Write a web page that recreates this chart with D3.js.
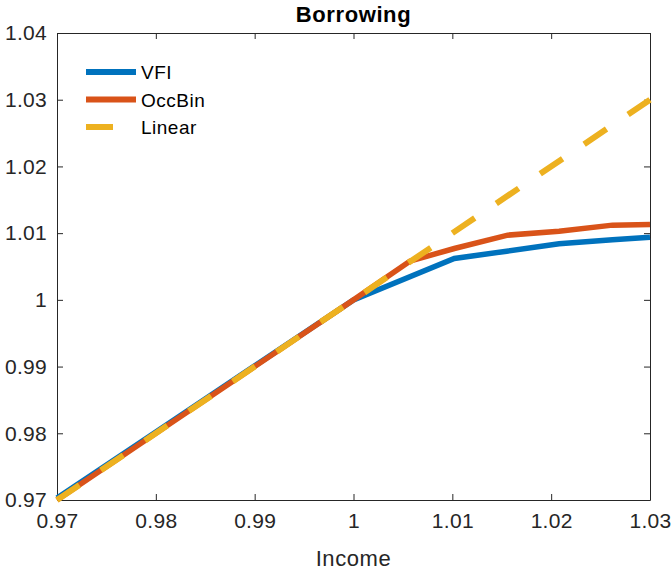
<!DOCTYPE html>
<html>
<head>
<meta charset="utf-8">
<script src="https://cdn.jsdelivr.net/npm/d3@7"></script>
<style>
  html, body { margin: 0; padding: 0; background: #fff; }
  svg { display: block; font-family: "Liberation Sans", Arial, Helvetica, sans-serif; }
</style>
</head>
<body>
<svg id="chart" width="671" height="572"></svg>
<script>
// Income grid and borrowing policy for each solution method
const vfiIncome    = [0.97, 0.98, 0.99, 1.00, 1.0102, 1.0155, 1.0208, 1.0262, 1.03];
const vfiBorrow    = [0.9703, 0.9802, 0.9901, 1.0000, 1.0062, 1.0073, 1.0084, 1.0090, 1.0094];
const occIncome    = [0.97, 0.98, 0.99, 1.00, 1.0057, 1.0102, 1.0156, 1.0208, 1.0262, 1.03];
const occBorrow    = [0.9700, 0.9800, 0.9900, 1.0000, 1.0058, 1.0077, 1.0097, 1.0103, 1.0112, 1.0113];
const linIncome    = [0.97, 1.03];
const linBorrow    = [0.97, 1.03];

const xTicks = [0.97, 0.98, 0.99, 1.00, 1.01, 1.02, 1.03];
const yTicks = [0.97, 0.98, 0.99, 1.00, 1.01, 1.02, 1.03, 1.04];
const tickFmt = v => (Math.abs(v - 1) < 1e-9 ? "1" : d3.format(".2f")(v));

const seriesNames  = ["VFI", "OccBin", "Linear"];
const seriesColors = ["#0072BD", "#D95319", "#EDB120"];

const svg = d3.select("#chart");
const L = 57, R = 650, T = 33, B = 500;

const x = d3.scaleLinear().domain([0.97, 1.03]).range([L, R]);
const y = d3.scaleLinear().domain([0.97, 1.04]).range([B, T]);

const axisColor = "#262626";
const tickLen = 6;

// Box and inward ticks on all four sides
const axes = svg.append("g");
const gBottom = axes.append("g").attr("transform", `translate(0,${B})`)
  .call(d3.axisBottom(x).tickValues(xTicks).tickSizeInner(-tickLen).tickSizeOuter(0).tickFormat(tickFmt));
axes.append("g").attr("transform", `translate(0,${T})`)
  .call(d3.axisTop(x).tickValues(xTicks).tickSizeInner(-tickLen).tickSizeOuter(0).tickFormat(""));
const gLeft = axes.append("g").attr("transform", `translate(${L},0)`)
  .call(d3.axisLeft(y).tickValues(yTicks).tickSizeInner(-tickLen).tickSizeOuter(0).tickFormat(tickFmt));
axes.append("g").attr("transform", `translate(${R},0)`)
  .call(d3.axisRight(y).tickValues(yTicks).tickSizeInner(-tickLen).tickSizeOuter(0).tickFormat(""));

axes.selectAll(".domain").attr("stroke", axisColor).attr("stroke-width", 1);
axes.selectAll(".tick line").attr("stroke", axisColor).attr("stroke-width", 1);
axes.selectAll(".tick text")
  .attr("fill", "#262626")
  .style("font-size", "21px")
  .style("letter-spacing", "0.3px");
gBottom.selectAll(".tick text").attr("y", 13);
gLeft.selectAll(".tick text").attr("x", -10);

// Lines
const line = d3.line().x(d => x(d[0])).y(d => y(d[1]));
const plot = svg.append("g");

plot.append("path")
  .datum(d3.zip(vfiIncome, vfiBorrow))
  .attr("d", line).attr("fill", "none")
  .attr("stroke", seriesColors[0]).attr("stroke-width", 5.5);

plot.append("path")
  .datum(d3.zip(occIncome, occBorrow))
  .attr("d", line).attr("fill", "none")
  .attr("stroke", seriesColors[1]).attr("stroke-width", 5.5);

plot.append("path")
  .datum(d3.zip(linIncome, linBorrow))
  .attr("d", line).attr("fill", "none")
  .attr("stroke", seriesColors[2]).attr("stroke-width", 6)
  .attr("stroke-dasharray", "27,26");

// Legend
const legend = svg.append("g");
seriesNames.forEach((name, i) => {
  const ly = 72 + i * 27.5;
  legend.append("line")
    .attr("x1", 86).attr("x2", i === 2 ? 113 : 136)
    .attr("y1", ly).attr("y2", ly)
    .attr("stroke", seriesColors[i]).attr("stroke-width", 6);
  legend.append("text")
    .attr("x", 141).attr("y", ly + 7)
    .attr("fill", "#000")
    .style("font-size", "19px")
    .style("letter-spacing", "0.5px")
    .text(name);
});

// Title and axis label
svg.append("text")
  .attr("x", (L + R) / 2).attr("y", 22)
  .attr("text-anchor", "middle")
  .style("font-size", "22px").style("font-weight", "bold")
  .style("letter-spacing", "0.6px")
  .attr("fill", "#000")
  .text("Borrowing");

svg.append("text")
  .attr("x", (L + R) / 2).attr("y", 566)
  .attr("text-anchor", "middle")
  .style("font-size", "22px")
  .style("letter-spacing", "0.6px")
  .attr("fill", "#262626")
  .text("Income");
</script>
</body>
</html>
